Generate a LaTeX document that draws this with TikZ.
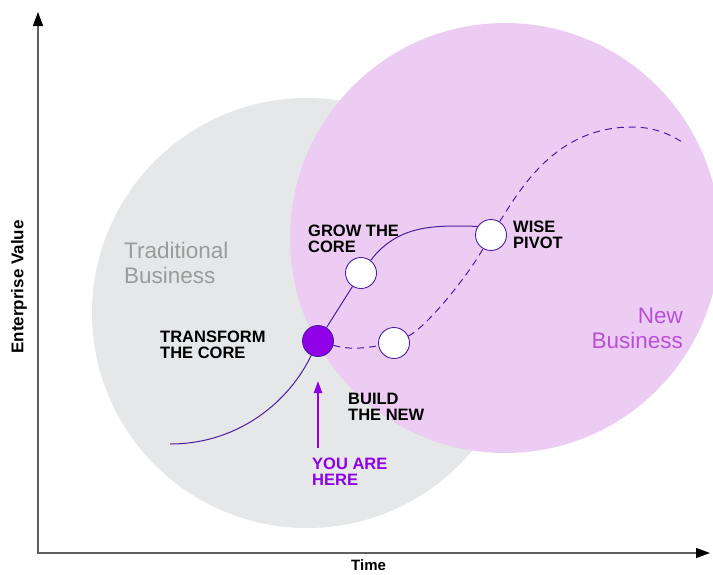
\documentclass[tikz,border=0pt]{standalone}
\usepackage{fontspec}
\setmainfont{Liberation Sans}
\usetikzlibrary{arrows.meta}
\definecolor{tradgrey}{RGB}{230,231,232}
\definecolor{newpink}{RGB}{237,204,243}
\definecolor{pathline}{RGB}{75,30,160}
\definecolor{accent}{RGB}{143,0,230}
\definecolor{tradtext}{RGB}{155,155,155}
\definecolor{newtext}{RGB}{183,80,214}
\definecolor{axisgrey}{RGB}{95,95,95}

\begin{document}
\begin{tikzpicture}[x=1pt, y=-1pt,
  stage/.style={circle, draw=pathline, line width=0.9pt, fill=white, minimum size=31pt, inner sep=0pt},
  tag/.style={anchor=north west, inner sep=0pt, align=left, font=\fontsize{16.5}{15.5}\selectfont\bfseries},
  area/.style={inner sep=0pt, font=\fontsize{22.5}{25}\selectfont},
  track/.style={draw=pathline, line width=1pt},
  future/.style={track, dash pattern=on 7pt off 5pt}]
\useasboundingbox (0,0) rectangle (713,574);

\fill[tradgrey] (307,313) circle [radius=215pt];
\fill[newpink] (505,238) circle [radius=215pt];

\node[area, text=tradtext, anchor=north west, align=left] (trad) at (124,242) {Traditional\\Business};
\node[area, text=newtext, anchor=north east, align=right] (new) at (683,308) {New\\Business};

\coordinate (origin) at (38,553);
\coordinate (ytip) at (38,12);
\coordinate (xtip) at (710,553);
\draw[axisgrey, line width=1.3pt, {Triangle[length=14pt,width=10pt,color=black]}-{Triangle[length=14pt,width=10pt,color=black]}] (ytip) -- (origin) -- (xtip);
\node[rotate=90, inner sep=0pt, font=\fontsize{17}{17}\selectfont\bfseries] (yaxis) at (19,287) {Enterprise Value};
\node[tag, anchor=south west, font=\fontsize{15}{15}\selectfont\bfseries] (xaxis) at (351,571) {Time};

\node[stage, fill=accent] (transform) at (318,341) {};
\node[stage] (grow) at (361,273) {};
\node[stage] (build) at (394,343) {};
\node[stage] (pivot) at (491,235) {};

\coordinate (start) at (170,444);
\coordinate (peak) at (632,127);
\coordinate (fade) at (685,144);
\draw[track] (start) .. controls (240,444) and (290,400) .. (transform);
\draw[track] (transform) -- (grow);
\draw[track] (grow) .. controls (400,222) and (440,226) .. (pivot.147);
\draw[future] (transform) .. controls (350,350) and (365,348) .. (build);
\draw[future] (build) .. controls (425,328) and (465,280) .. (pivot);
\draw[future] (pivot) .. controls (520,190) and (555,127) .. (peak) .. controls (655,127) and (672,135) .. (fade);

\node[tag] (growtag) at (308,225) {GROW THE\\CORE};
\node[tag] (transformtag) at (160,331) {TRANSFORM\\THE CORE};
\node[tag] (buildtag) at (348,393) {BUILD\\THE NEW};
\node[tag] (pivottag) at (513,221) {WISE\\PIVOT};
\node[tag, text=accent] (heretag) at (312,458) {YOU ARE\\HERE};

\coordinate (herebase) at (318,448);
\coordinate (heretip) at (318,381);
\draw[accent, line width=2pt, -{Triangle[length=12pt,width=8pt]}] (herebase) -- (heretip);
\end{tikzpicture}
\end{document}
